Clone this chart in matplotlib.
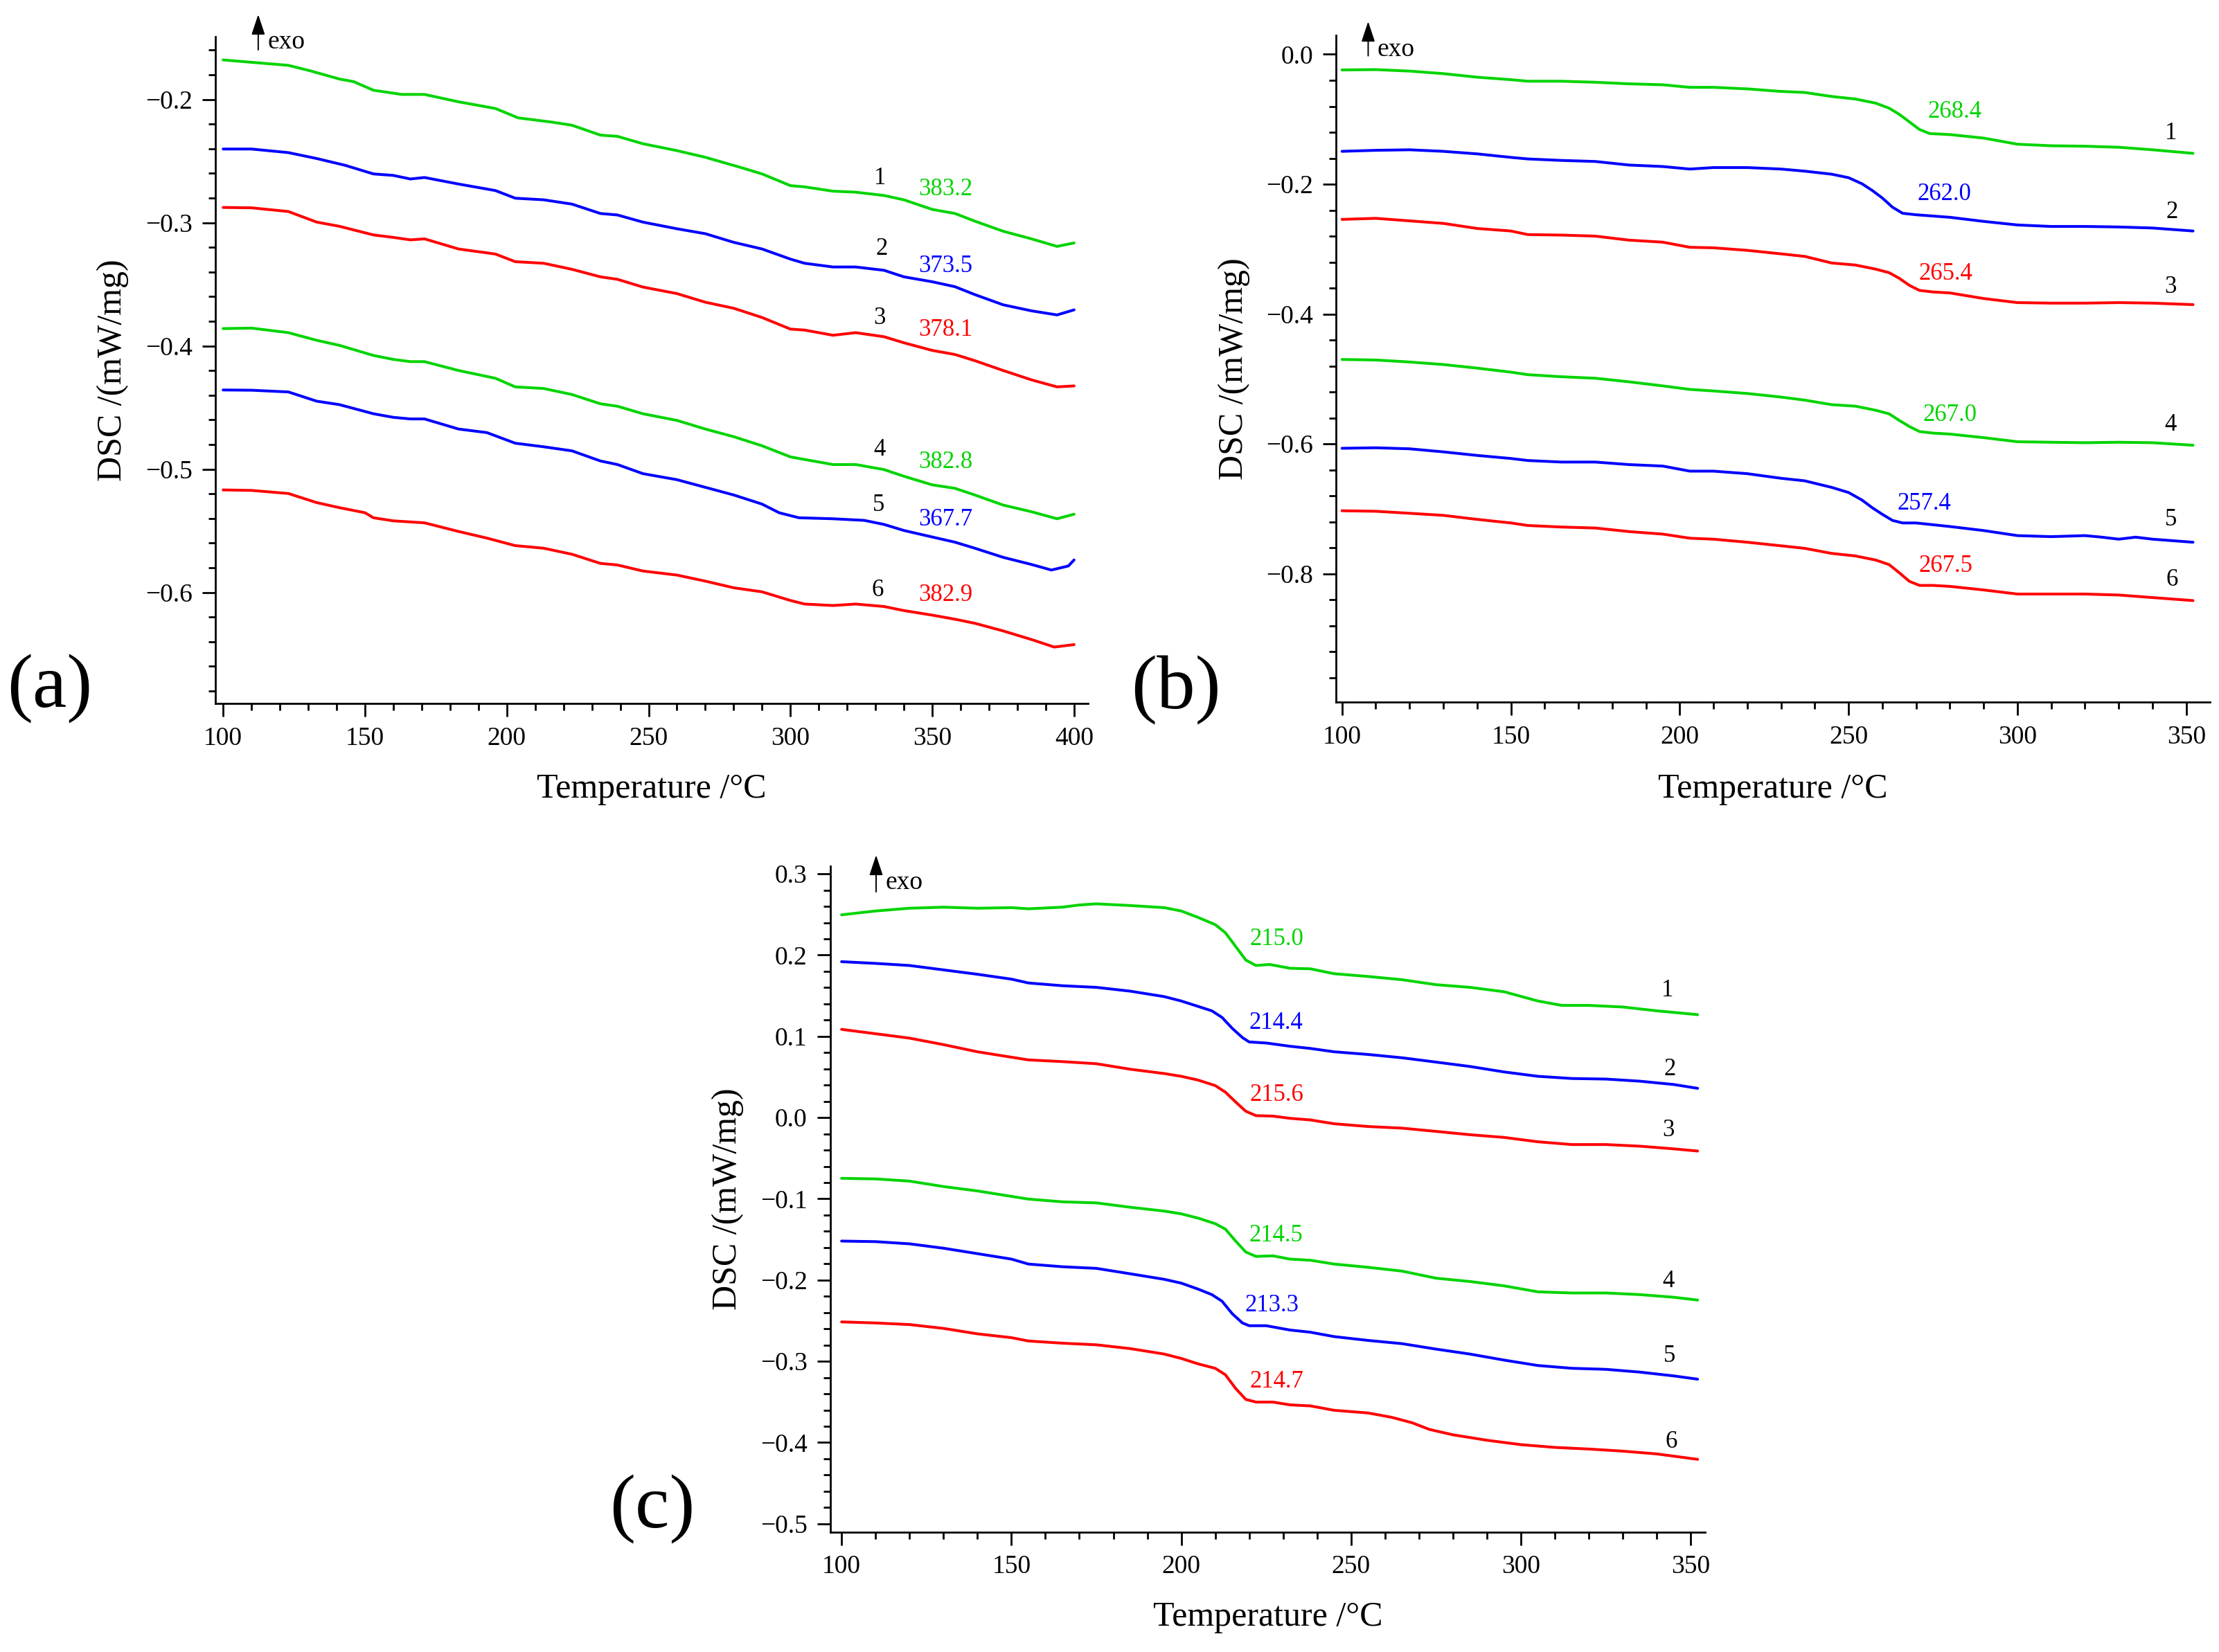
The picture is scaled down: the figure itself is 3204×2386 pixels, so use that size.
"""Three-panel DSC plot (a)/(b)/(c), six traces each, glass transition labels."""
import matplotlib
matplotlib.use("Agg")
import matplotlib.pyplot as plt
from matplotlib.ticker import MultipleLocator, FuncFormatter

plt.rcParams["font.family"] = ["Liberation Serif", "DejaVu Serif"]
plt.rcParams["axes.unicode_minus"] = True

GREEN, BLUE, RED = "#00D400", "#0000FF", "#FF0000"
COLORS = [GREEN, BLUE, RED, GREEN, BLUE, RED]
CURVE_NUMS = ["1", "2", "3", "4", "5", "6"]

# ---------------- panel (a) ----------------
A1_T = [100, 123, 131, 141, 146, 153, 163, 171, 183, 196, 204, 216, 223, 233, 239, 248, 260,
        270, 283, 290, 300, 305, 315, 323, 333, 340, 350, 358, 365, 375, 385, 394, 400]
A1_DSC = [-0.168, -0.1724, -0.177, -0.1835, -0.1856, -0.1926, -0.196, -0.196, -0.202, -0.2074,
          -0.215, -0.2185, -0.221, -0.229, -0.230, -0.236, -0.2416, -0.247, -0.2556, -0.2605,
          -0.270, -0.271, -0.2745, -0.2753, -0.278, -0.2815, -0.2893, -0.2926, -0.2988, -0.307,
          -0.3132, -0.3193, -0.3165]
A2_T = [100, 110, 123, 133, 143, 153, 160, 166, 171, 183, 196, 203, 213, 223, 233, 239, 248,
        260, 270, 280, 290, 300, 305, 315, 323, 333, 340, 350, 358, 365, 375, 385, 394, 400]
A2_DSC = [-0.2403, -0.2403, -0.2432, -0.248, -0.2535, -0.2605, -0.2617, -0.2646, -0.2634,
          -0.2687, -0.274, -0.2802, -0.2815, -0.285, -0.2926, -0.2938, -0.2996, -0.305, -0.309,
          -0.316, -0.3214, -0.3296, -0.333, -0.336, -0.336, -0.3387, -0.344, -0.348, -0.352,
          -0.3584, -0.3667, -0.3716, -0.3749, -0.3708]
A34_T = [100, 110, 123, 133, 141, 153, 160, 166, 171, 183, 196, 203, 213, 223, 233, 239, 248,
         260, 270, 280, 290, 300, 305, 315, 323, 333, 340, 350, 358, 365, 375, 385, 394, 400]
A3_DSC = [-0.2877, -0.288, -0.291, -0.2996, -0.303, -0.310, -0.312, -0.314, -0.3132, -0.3214,
          -0.3255, -0.3317, -0.333, -0.3379, -0.344, -0.346, -0.3523, -0.3576, -0.3646, -0.3695,
          -0.377, -0.3864, -0.3872, -0.3914, -0.3893, -0.3926, -0.3975, -0.4037, -0.407, -0.412,
          -0.420, -0.4276, -0.4333, -0.4325]
A4_DSC = [-0.386, -0.3856, -0.3893, -0.3955, -0.3996, -0.4078, -0.411, -0.4128, -0.4128, -0.420,
          -0.4263, -0.4333, -0.4346, -0.4395, -0.447, -0.449, -0.4551, -0.4605, -0.4675, -0.4737,
          -0.4811, -0.4901, -0.4922, -0.4963, -0.4963, -0.5004, -0.5058, -0.5128, -0.5156,
          -0.521, -0.5292, -0.5346, -0.5403, -0.5366]
A5_T = [100, 110, 123, 133, 141, 153, 160, 166, 171, 183, 193, 203, 213, 223, 233, 239, 248,
        260, 270, 280, 290, 296, 303, 315, 326, 333, 340, 350, 358, 365, 375, 385, 392, 398, 400]
A5_DSC = [-0.4358, -0.436, -0.4374, -0.4449, -0.4477, -0.4551, -0.458, -0.4593, -0.4593,
          -0.4675, -0.4704, -0.479, -0.4819, -0.4852, -0.4934, -0.4963, -0.5037, -0.5086,
          -0.5148, -0.521, -0.5284, -0.5354, -0.5395, -0.5403, -0.5416, -0.5449, -0.5498,
          -0.5551, -0.5593, -0.5642, -0.5716, -0.5774, -0.5819, -0.5786, -0.5737]
A6_T = [100, 110, 123, 133, 141, 150, 153, 160, 171, 183, 193, 203, 213, 223, 233, 239, 248,
        260, 270, 280, 290, 300, 305, 315, 323, 333, 340, 350, 358, 365, 375, 385, 393, 400]
A6_DSC = [-0.5169, -0.5173, -0.5198, -0.5272, -0.5313, -0.5354, -0.5395, -0.542, -0.5436,
          -0.5506, -0.556, -0.5621, -0.5642, -0.5691, -0.5765, -0.5778, -0.5827, -0.586,
          -0.5909, -0.5963, -0.5996, -0.6066, -0.6095, -0.6107, -0.6095, -0.6115, -0.6148,
          -0.6185, -0.6218, -0.6251, -0.6313, -0.6383, -0.6444, -0.6424]
A_PEAKS = ["383.2", "373.5", "378.1", "382.8", "367.7", "382.9"]

# ---------------- panel (b) ----------------
B1_T = [100, 110, 120, 130, 140, 150, 155, 165, 175, 185, 195, 203, 210, 220, 230, 237, 245,
        252, 258, 262, 265, 268, 271, 274, 280, 290, 300, 310, 320, 330, 340, 352]
B1_DSC = [-0.024, -0.0235, -0.0258, -0.0297, -0.0352, -0.039, -0.0414, -0.0414, -0.043,
          -0.0454, -0.0469, -0.0508, -0.0508, -0.0532, -0.0571, -0.0587, -0.0649, -0.0688,
          -0.0751, -0.0829, -0.0923, -0.104, -0.1157, -0.122, -0.1236, -0.129, -0.1384,
          -0.1408, -0.1415, -0.1431, -0.147, -0.1525]
B_RED_T = [100, 110, 120, 130, 140, 150, 155, 165, 175, 185, 195, 203, 210, 220, 230, 237, 245,
           252, 258, 262, 265, 268, 271, 275, 280, 290, 300, 310, 320, 330, 340, 352]
B3_DSC = [-0.2542, -0.2526, -0.2565, -0.2604, -0.2682, -0.2721, -0.2776, -0.2784, -0.28,
          -0.2862, -0.2893, -0.2972, -0.298, -0.3019, -0.3073, -0.3112, -0.3214, -0.3245,
          -0.3308, -0.3363, -0.3449, -0.3558, -0.3636, -0.366, -0.3675, -0.3761, -0.3824,
          -0.3832, -0.3832, -0.3824, -0.3832, -0.3855]
B4_DSC = [-0.47, -0.4708, -0.4739, -0.4778, -0.4833, -0.4895, -0.4934, -0.4966, -0.4989,
          -0.5044, -0.5107, -0.5161, -0.5185, -0.5224, -0.5279, -0.5326, -0.5396, -0.5419,
          -0.5482, -0.5537, -0.5638, -0.5732, -0.581, -0.5834, -0.5849, -0.5904, -0.5967,
          -0.5975, -0.5982, -0.5975, -0.5982, -0.6021]
B6_DSC = [-0.703, -0.7038, -0.7069, -0.7101, -0.7163, -0.7218, -0.7257, -0.7281, -0.7296,
          -0.7351, -0.739, -0.7453, -0.7468, -0.7515, -0.757, -0.7609, -0.7687, -0.7726,
          -0.7789, -0.7859, -0.7984, -0.8117, -0.818, -0.818, -0.8195, -0.825, -0.8313,
          -0.8313, -0.8313, -0.8328, -0.8367, -0.8414]
B2_T = [100, 110, 120, 130, 140, 150, 155, 165, 175, 185, 195, 203, 210, 220, 230, 237, 245,
        250, 254, 257, 260, 263, 266, 270, 280, 290, 300, 310, 320, 330, 340, 352]
B2_DSC = [-0.1494, -0.1478, -0.147, -0.1494, -0.1533, -0.1587, -0.1611, -0.1634, -0.165,
          -0.1705, -0.1728, -0.1767, -0.1744, -0.1744, -0.1767, -0.1799, -0.1846, -0.19,
          -0.1994, -0.2096, -0.2213, -0.2354, -0.2448, -0.2471, -0.251, -0.2573, -0.2628,
          -0.2651, -0.2651, -0.2659, -0.2675, -0.2721]
B5_T = [100, 110, 120, 130, 140, 150, 155, 165, 175, 185, 195, 203, 210, 220, 230, 237, 245,
        250, 254, 257, 260, 263, 266, 270, 280, 290, 300, 310, 320, 325, 330, 335, 340, 352]
B5_DSC = [-0.6068, -0.606, -0.6076, -0.6123, -0.6178, -0.6225, -0.6256, -0.628, -0.628,
          -0.6319, -0.6342, -0.642, -0.642, -0.6459, -0.653, -0.6569, -0.667, -0.6749,
          -0.6866, -0.6983, -0.7085, -0.7179, -0.7218, -0.7218, -0.7273, -0.7335, -0.7413,
          -0.7429, -0.7413, -0.7437, -0.7468, -0.7437, -0.7468, -0.7515]
B_PEAKS = ["268.4", "262.0", "265.4", "267.0", "257.4", "267.5"]

# ---------------- panel (c) ----------------
C1_T = [100, 110, 120, 130, 140, 150, 155, 165, 170, 175, 185, 195, 200, 205, 210, 213, 216,
        219, 222, 226, 232, 238, 245, 255, 265, 275, 285, 295, 305, 312, 320, 330, 340, 352]
C1_DSC = [0.2496, 0.2543, 0.2577, 0.259, 0.2577, 0.2584, 0.257, 0.259, 0.2617, 0.2631, 0.261,
          0.2584, 0.2543, 0.2463, 0.2375, 0.2275, 0.2107, 0.1939, 0.1872, 0.1885, 0.1838,
          0.1831, 0.1771, 0.1737, 0.1697, 0.1636, 0.1603, 0.1549, 0.1435, 0.1381, 0.1381,
          0.1361, 0.1314, 0.1267]
C_BLUE_T = [100, 110, 120, 130, 140, 150, 155, 165, 175, 185, 195, 200, 205, 209, 212, 215,
            218, 220, 225, 232, 238, 245, 255, 265, 275, 285, 295, 305, 315, 325, 335, 345, 352]
C2_DSC = [0.1919, 0.1898, 0.1872, 0.1818, 0.1764, 0.1704, 0.1657, 0.1623, 0.1603, 0.1556,
          0.1489, 0.1435, 0.1368, 0.1314, 0.1233, 0.1099, 0.0985, 0.0931, 0.0918, 0.0878,
          0.0851, 0.081, 0.0777, 0.0736, 0.0683, 0.0629, 0.0562, 0.0508, 0.0481, 0.0474,
          0.0448, 0.0407, 0.036]
C5_DSC = [-0.152, -0.1527, -0.1554, -0.1608, -0.1675, -0.1742, -0.1803, -0.1836, -0.1856,
          -0.1923, -0.1991, -0.2038, -0.2112, -0.2179, -0.226, -0.2414, -0.2528, -0.2562,
          -0.2562, -0.2615, -0.2642, -0.2696, -0.2743, -0.2783, -0.285, -0.2911, -0.2985,
          -0.3052, -0.3086, -0.3099, -0.3133, -0.318, -0.322]
C34_T = [100, 110, 120, 130, 140, 150, 155, 165, 175, 185, 195, 200, 205, 210, 213, 216, 219,
         222, 227, 232, 238, 245, 255, 265, 275, 285, 295, 305, 315, 325, 335, 345, 352]
C3_DSC = [0.1086, 0.1032, 0.0978, 0.0898, 0.081, 0.0743, 0.071, 0.0689, 0.0663, 0.0595, 0.0542,
          0.0508, 0.0461, 0.0394, 0.0313, 0.0192, 0.0078, 0.0024, 0.0018, -0.0009, -0.0029,
          -0.0076, -0.011, -0.013, -0.017, -0.0211, -0.0244, -0.0298, -0.0332, -0.0332,
          -0.0352, -0.0385, -0.0412]
C4_DSC = [-0.0748, -0.0755, -0.0782, -0.0849, -0.0903, -0.097, -0.1003, -0.1037, -0.105,
          -0.1104, -0.1151, -0.1185, -0.1238, -0.1306, -0.1373, -0.152, -0.1655, -0.1709,
          -0.1702, -0.1742, -0.1756, -0.1803, -0.1843, -0.189, -0.1977, -0.2018, -0.2071,
          -0.2145, -0.2159, -0.2159, -0.2179, -0.2212, -0.2246]
C6_T = [100, 110, 120, 130, 140, 150, 155, 165, 175, 185, 195, 200, 205, 210, 213, 216, 219,
        222, 227, 232, 238, 245, 255, 262, 268, 273, 280, 290, 300, 310, 320, 330, 340, 352]
C6_DSC = [-0.2515, -0.2528, -0.2548, -0.2595, -0.2662, -0.2709, -0.275, -0.2777, -0.2797,
          -0.2844, -0.2911, -0.2965, -0.3032, -0.3086, -0.3166, -0.3334, -0.3469, -0.3502,
          -0.3502, -0.3536, -0.3549, -0.3603, -0.3636, -0.369, -0.3757, -0.3838, -0.3905,
          -0.3972, -0.4026, -0.406, -0.408, -0.4106, -0.414, -0.4207]
C_PEAKS = ["215.0", "214.4", "215.6", "214.5", "213.3", "214.7"]

# ---------------- layout (positions only) ----------------
PANELS = [
    dict(letter="(a)", rect=[0.0971, 0.5743, 0.3932, 0.4036], xlim=(97.3, 404.9),
         ylim=(-0.690, -0.149), xmax_tick=400, ymajor=0.1, yminor=0.02,
         curves=[(A1_T, A1_DSC), (A2_T, A2_DSC), (A34_T, A3_DSC),
                 (A34_T, A4_DSC), (A5_T, A5_DSC), (A6_T, A6_DSC)],
         peaks=A_PEAKS,
         peak_xy=[(354.7, -0.2733), (354.7, -0.3354), (354.7, -0.3872),
                  (354.7, -0.4942), (354.7, -0.5412), (354.7, -0.6020)],
         num_xy=[(331.5, -0.2638), (332.2, -0.3214), (331.5, -0.3778),
                 (331.5, -0.4840), (331.0, -0.5292), (330.7, -0.5984)],
         arrow=(0.049, 0.980, 1.033), exo=(0.060, 0.992),
         ylab_x=-0.1175, xlab_y=-0.129, letter_xy=(0.0225, 0.583)),
    dict(letter="(b)", rect=[0.6022, 0.5749, 0.3937, 0.4036], xlim=(98.3, 357.0),
         ylim=(-0.998, 0.029), xmax_tick=350, ymajor=0.2, yminor=0.04,
         curves=[(B1_T, B1_DSC), (B2_T, B2_DSC), (B_RED_T, B3_DSC),
                 (B_RED_T, B4_DSC), (B5_T, B5_DSC), (B_RED_T, B6_DSC)],
         peaks=B_PEAKS,
         peak_xy=[(281.4, -0.0884), (278.3, -0.2150), (278.7, -0.3386),
                  (280.0, -0.5552), (272.4, -0.6921), (278.7, -0.7883)],
         num_xy=[(345.4, -0.1212), (345.8, -0.2432), (345.4, -0.3582),
                 (345.4, -0.5701), (345.4, -0.7171), (345.8, -0.8094)],
         arrow=(0.0365, 0.9695, 1.021), exo=(0.047, 0.979),
         ylab_x=-0.1169, xlab_y=-0.1305, letter_xy=(0.530, 0.582)),
    dict(letter="(c)", rect=[0.3742, 0.0727, 0.3942, 0.4030], xlim=(96.7, 354.2),
         ylim=(-0.510, 0.3095), xmax_tick=350, ymajor=0.1, yminor=0.02,
         curves=[(C1_T, C1_DSC), (C_BLUE_T, C2_DSC), (C34_T, C3_DSC),
                 (C34_T, C4_DSC), (C_BLUE_T, C5_DSC), (C6_T, C6_DSC)],
         peaks=C_PEAKS,
         peak_xy=[(228.2, 0.2194), (227.8, 0.1166), (228.2, 0.0280),
                  (227.8, -0.1453), (226.7, -0.2313), (228.2, -0.3254)],
         num_xy=[(343.1, 0.1569), (343.8, 0.0595), (343.4, -0.0157),
                 (343.4, -0.2011), (343.8, -0.2938), (344.3, -0.3992)],
         arrow=(0.0523, 0.9614, 1.0166), exo=(0.0626, 0.9755),
         ylab_x=-0.1175, xlab_y=-0.128, letter_xy=(0.294, 0.0863)),
]

TICK_FS = 13.5
NOTE_FS = 12.5


def minus_fmt(v, _pos):
    return f"{v:.1f}".replace("-", "\u2212")


def draw_panel(fig, p):
    ax = fig.add_axes(p["rect"])
    for (t, d), col in zip(p["curves"], COLORS):
        ax.plot(t, d, color=col, lw=1.45, solid_capstyle="round", solid_joinstyle="round")

    ax.set_xlim(*p["xlim"])
    ax.set_ylim(*p["ylim"])
    ax.set_xticks(list(range(100, p["xmax_tick"] + 1, 50)))
    ax.xaxis.set_minor_locator(MultipleLocator(10))
    ax.yaxis.set_major_locator(MultipleLocator(p["ymajor"]))
    ax.yaxis.set_minor_locator(MultipleLocator(p["yminor"]))
    ax.yaxis.set_major_formatter(FuncFormatter(minus_fmt))

    for side in ("top", "right"):
        ax.spines[side].set_visible(False)
    for side in ("left", "bottom"):
        ax.spines[side].set_linewidth(1.0)
    ax.tick_params(which="major", direction="out", length=7, width=1.0,
                   labelsize=TICK_FS, pad=5)
    ax.tick_params(which="minor", direction="out", length=3.5, width=1.0)

    ax.set_xlabel("Temperature /\u00b0C", fontsize=18, va="center")
    ax.xaxis.set_label_coords(0.5, p["xlab_y"])
    ax.set_ylabel("DSC /(mW/mg)", fontsize=18, va="center")
    ax.yaxis.set_label_coords(p["ylab_x"], 0.5)

    # peak temperatures in trace colour, trace numbers in black
    for txt, (x, y), col in zip(p["peaks"], p["peak_xy"], COLORS):
        ax.text(x, y, txt, color=col, fontsize=NOTE_FS, ha="center", va="center")
    for num, (x, y) in zip(CURVE_NUMS, p["num_xy"]):
        ax.text(x, y, num, color="black", fontsize=NOTE_FS, ha="center", va="center")

    # "exo" up arrow
    ax_x, y0, y1 = p["arrow"]
    ax.annotate("", xy=(ax_x, y1), xytext=(ax_x, y0), xycoords="axes fraction",
                annotation_clip=False,
                arrowprops=dict(arrowstyle="-|>,head_length=0.45,head_width=0.15",
                                color="black", lw=0.7, mutation_scale=20,
                                shrinkA=0, shrinkB=0))
    ax.text(p["exo"][0], p["exo"][1], "exo", transform=ax.transAxes,
            fontsize=13.5, ha="left", va="center")

    fig.text(p["letter_xy"][0], p["letter_xy"][1], p["letter"], fontsize=40,
             ha="center", va="center")
    return ax


def main():
    fig = plt.figure(figsize=(16.02, 11.93), dpi=200)
    for p in PANELS:
        draw_panel(fig, p)
    fig.savefig("out.png", dpi=200, facecolor="white")
    plt.close(fig)


if __name__ == "__main__":
    main()
